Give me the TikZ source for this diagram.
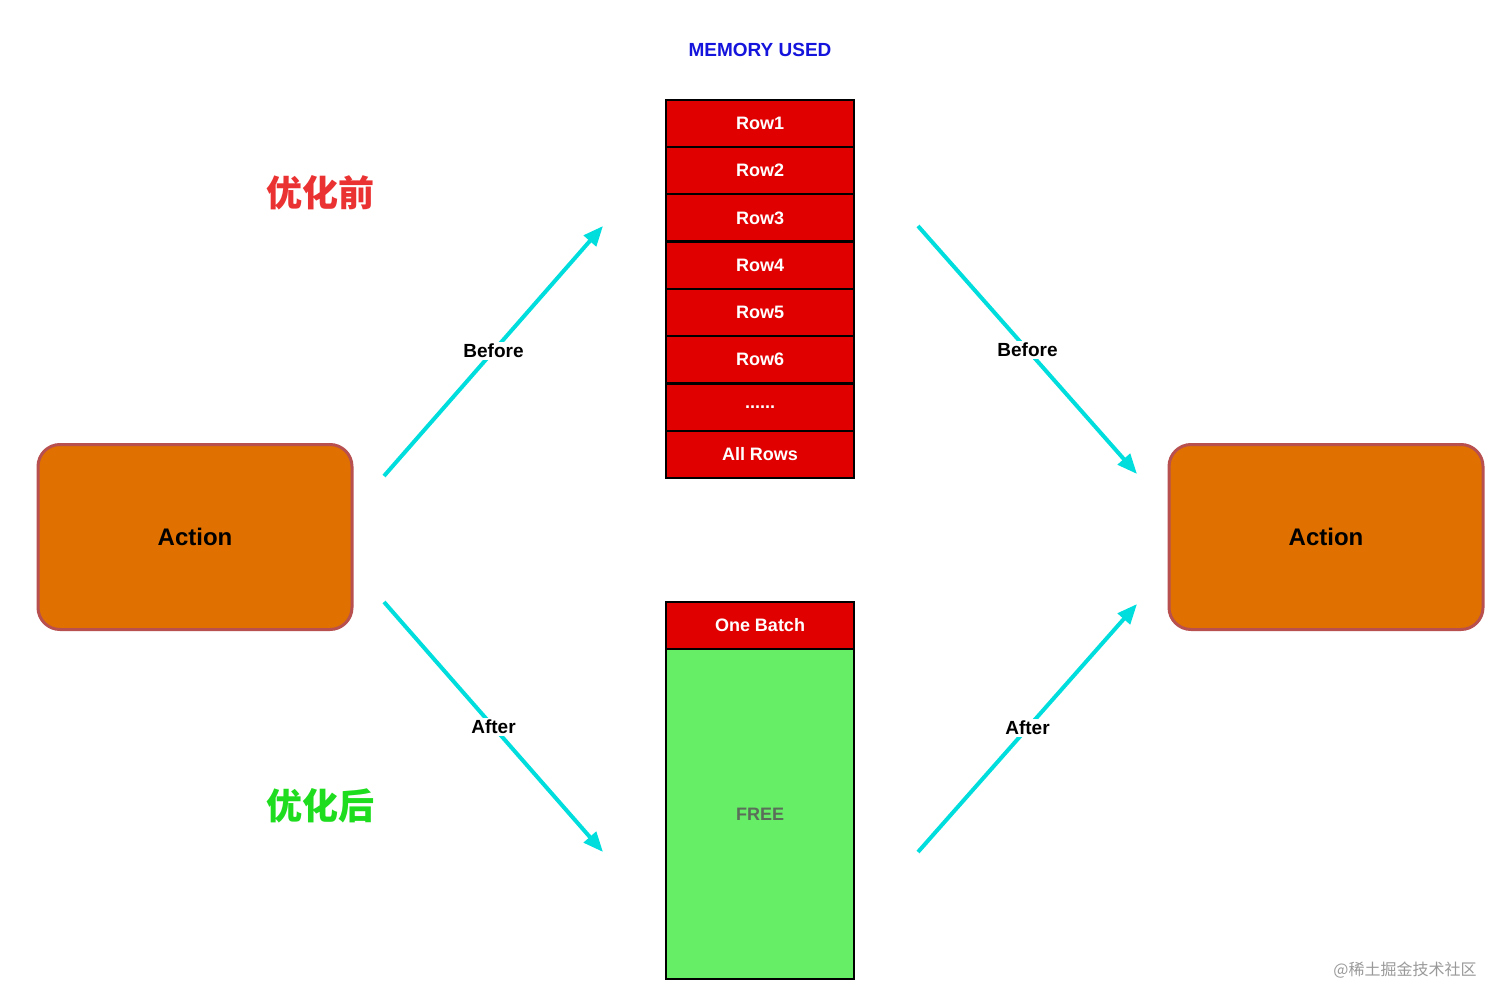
\documentclass[tikz,border=0pt]{standalone}
\usepackage{fontspec}
\setmainfont{Liberation Sans}
\newfontfamily\cjk{Noto Sans CJK SC}
\usetikzlibrary{arrows.meta}
\definecolor{rowred}{HTML}{E00000}
\definecolor{act}{HTML}{E07000}
\definecolor{actb}{HTML}{B85050}
\definecolor{cy}{HTML}{00DDDD}
\definecolor{fr}{HTML}{66EE66}
\begin{document}
\begin{tikzpicture}[x=1pt,y=-1pt,
 row/.style={draw=black,line width=2pt,fill=rowred,minimum width=188pt,minimum height=47pt,anchor=north,inner sep=0pt,text=white,font=\bfseries\fontsize{18}{20}\selectfont},
 action/.style={draw=actb,line width=3pt,fill=act,rounded corners=22pt,minimum width=314pt,minimum height=185pt,font=\bfseries\fontsize{24}{28}\selectfont},
 arr/.style={cy,line width=4pt,-{Triangle[length=20pt,width=16pt]}},
 lab/.style={fill=white,text=black,inner sep=2pt,font=\bfseries\fontsize{19}{22}\selectfont}]
\useasboundingbox (0,0) rectangle (1512,1008);
\node[text={rgb,255:red,20;green,20;blue,220},font=\bfseries\fontsize{19}{22}\selectfont] (mem) at (760,50) {MEMORY USED};
\foreach \i/\t in {1/Row1,2/Row2,3/Row3,4/Row4,5/Row5,6/Row6,7/{......},8/All Rows}{
  \node[row] (r\i) at (760,{99+(\i-1)*47.25}) {\t};
}
\node[row] (batch) at (760,601) {One Batch};
\node[draw=black,line width=2pt,fill=fr,minimum width=188pt,minimum height=330pt,anchor=north,inner sep=0pt,text={rgb,255:red,90;green,110;blue,90},font=\bfseries\fontsize{18}{20}\selectfont] (free) at (760,648) {FREE};
\node[action] (a1) at (195,537) {Action};
\node[action] (a2) at (1326,537) {Action};
\coordinate (p1) at (384,476); \coordinate (p2) at (603,226);
\coordinate (p3) at (918,226); \coordinate (p4) at (1137,474);
\coordinate (p5) at (384,602); \coordinate (p6) at (603,852);
\coordinate (p7) at (918,852); \coordinate (p8) at (1137,604);
\draw[arr] (p1) -- node[lab] {Before} (p2);
\draw[arr] (p3) -- node[lab,pos=0.5] {Before} (p4);
\draw[arr] (p5) -- node[lab] {After} (p6);
\draw[arr] (p7) -- node[lab] {After} (p8);
\node[text={rgb,255:red,235;green,50;blue,50},font=\cjk\bfseries\fontsize{36}{40}\selectfont] (t1) at (320,193) {优化前};
\node[text={rgb,255:red,30;green,220;blue,30},font=\cjk\bfseries\fontsize{36}{40}\selectfont] (t2) at (320,806) {优化后};
\node[text=gray!80,font=\cjk\fontsize{16}{18}\selectfont] (wm) at (1405,970) {@稀土掘金技术社区};
\end{tikzpicture}
\end{document}
